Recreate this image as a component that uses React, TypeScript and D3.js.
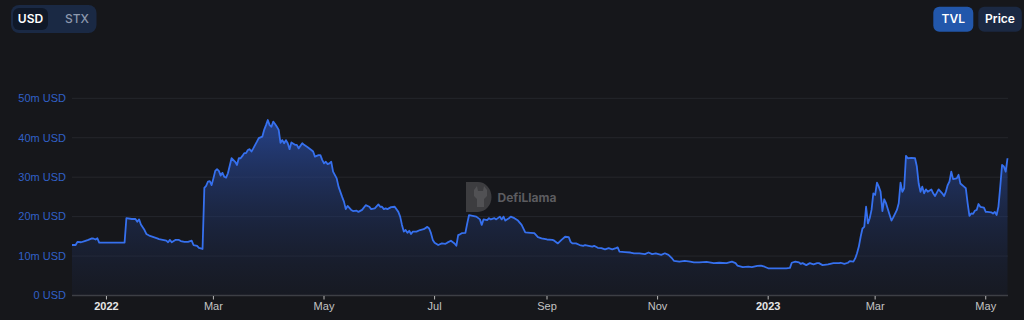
import React from "react";
import * as d3 from "d3";

const SERIES_ORIGIN = "2022-01-01";
// [days since SERIES_ORIGIN, TVL in millions USD]
const tvlSeries: [number, number][] = [
  [-19,12.8],[-17,12.8],[-16,13.6],[-14,13.5],[-12,13.8],[-10,14.1],[-8,14.5],[-7,14.4],[-6,14.2],[-5,14.5],[-4,13.4],[10,13.4],
  [11,19.6],[14,19.4],[16,19.4],[17,18.7],[18,19.3],[19,18.0],[21,16.6],[22,15.6],[24,15.1],[26,14.8],[28,14.5],[29,14.3],[31,14.1],[33,13.9],[34,13.5],[35,14.1],[36,13.5],[38,14.1],[40,14.1],[41,13.8],[43,13.6],[45,13.6],[47,13.9],[48,12.8],[50,12.6],[51,12.1],[53,11.8],
  [54,27.3],[55,27.8],[56,28.9],[57,29.0],[58,28.0],[59,29.7],[60,31.6],[61,32.0],[62,31.6],[63,30.4],[64,31.1],[65,30.1],[66,29.9],[67,31.0],[69,34.8],[71,33.9],[72,33.1],[73,34.8],[74,34.8],[75,35.4],[76,36.1],[77,36.1],[78,36.9],[79,37.1],[80,36.5],[81,37.3],[83,39.0],[84,39.9],[86,40.3],[87,42.0],[88,43.2],[89,44.5],[90,43.2],[91,42.8],[92,44.1],[93,43.5],[94,42.8],[95,42.0],[96,38.7],[97,39.4],[98,38.6],[99,39.4],[100,38.6],[101,37.1],[102,38.8],[104,38.2],[105,38.2],[106,37.3],[108,38.6],[109,38.2],[111,37.6],[113,36.9],[114,36.5],[115,35.2],[117,35.6],[118,35.6],[119,34.4],[120,33.5],[121,33.9],[122,33.3],[123,33.5],[124,33.9],[125,31.4],[127,29.7],[128,27.6],
  [130,25.0],[131,23.8],[132,21.9],[133,22.7],[135,21.7],[136,21.4],[138,21.5],[139,21.2],[141,21.7],[143,22.9],[145,22.5],[146,21.9],[148,22.1],[150,23.1],[151,22.5],[152,22.5],[153,21.9],[154,22.1],[155,21.9],[157,22.4],[159,22.5],[161,21.2],[162,20.0],[163,17.9],[164,16.2],[165,16.6],[166,15.9],[167,16.4],[168,15.6],[169,16.2],[171,16.2],[173,16.6],[175,16.8],[177,17.4],[178,17.0],[179,15.8],[180,14.1],[181,13.4],[183,12.8],[185,13.2],[187,13.1],[188,13.4],[190,13.9],[192,13.2],[193,12.6],[194,15.3],[195,15.5],[196,15.8],[198,15.9],[199,18.3],[200,20.4],[202,20.2],[204,20.0],[206,19.3],[207,17.9],[208,19.3],[210,19.1],[211,19.6],[212,19.3],[214,19.6],[215,19.3],[217,20.0],[218,19.3],[219,20.0],[220,19.0],[222,19.6],[223,20.0],[225,19.6],[227,19.0],[229,17.9],[231,16.0],[234,15.9],[236,15.8],[238,14.8],[240,14.5],[243,14.2],[246,14.1],[247,13.9],[249,13.2],[251,14.1],
  [253,14.9],[255,14.8],[256,13.6],[257,13.2],[259,13.2],[261,12.8],[263,12.6],[264,12.8],[266,12.6],[268,12.4],[269,12.6],[271,12.1],[273,12.0],[275,11.7],[277,12.0],[279,11.7],[281,12.0],[282,12.2],[283,11.1],[286,11.0],[289,10.9],[291,10.7],[294,10.7],[297,10.5],[299,10.9],[301,10.5],[303,10.7],[306,10.3],[308,10.7],[310,10.3],[312,9.4],[313,8.8],[316,8.6],[319,8.8],[322,8.6],[324,8.4],[327,8.4],[331,8.5],[335,8.2],[338,8.3],[342,8.2],[345,8.6],[347,8.2],[348,7.6],[351,7.2],[354,7.3],[356,7.2],[359,7.5],[361,7.6],[363,7.3],[365,6.9],[368,6.9],[371,6.9],[375,6.9],[377,7.0],[378,8.3],[380,8.6],[382,8.4],[383,8.0],[384,8.2],[386,7.7],[388,8.2],[390,7.9],[392,8.2],[393,8.2],[395,7.7],[398,7.9],[401,8.2],[404,8.2],[405,8.3],[407,8.0],[409,8.3],[410,8.7],[412,8.6],
  [413,9.4],[414,10.7],[415,12.4],[416,14.9],[417,17.0],[418,17.4],[419,22.5],[420,18.3],[421,19.6],[422,21.7],[423,25.9],[424,25.5],[425,28.6],[426,27.6],[427,26.3],[428,21.4],[429,24.4],[430,23.4],[432,20.4],[433,19.0],[434,19.8],[436,21.7],[437,23.4],[438,28.6],[439,26.3],[440,27.2],[441,35.4],[442,34.8],[444,34.9],[446,34.8],[447,32.7],[448,28.4],[449,26.3],[450,27.6],[451,25.9],[452,26.9],[453,26.3],[455,26.9],[456,25.9],[457,25.2],[459,26.9],[461,25.9],[462,25.2],[463,26.3],[464,28.0],[465,28.9],[466,31.4],[467,29.5],[469,29.7],[470,30.6],[471,28.4],[473,27.6],[474,27.2],[475,23.4],[476,20.2],[477,20.8],[478,20.7],[479,21.5],[480,21.7],[481,23.2],[482,22.5],[484,22.3],[485,21.2],[486,21.2],[488,21.1],[489,20.8],[490,21.2],[491,20.4],[492,22.5],[493,27.6],[494,33.1],[495,32.7],[496,31.4],[497,34.8]
];

const yTickValues = [0, 10, 20, 30, 40, 50];
const xTickDates = ["2022-01-01","2022-03-01","2022-05-01","2022-07-01","2022-09-01","2022-11-01","2023-01-01","2023-03-01","2023-05-01"];
const currencyOptions = ["USD", "STX"];
const metricOptions = ["TVL", "Price"];

const BG = "#16171b";

function parseLocal(s: string) {
  const [y, m, d] = s.split("-").map(Number);
  return new Date(y, m - 1, d);
}

export default function App() {
  const W = 1024, H = 320;
  const origin = parseLocal(SERIES_ORIGIN);
  const data = tvlSeries.map(([d, v]) => ({ date: d3.timeDay.offset(origin, d), value: v }));
  const [d0, d1] = d3.extent(data, (d) => d.date) as [Date, Date];
  const x = d3.scaleTime().domain([d0, d1]).range([72, 1007.5]);
  const y = d3.scaleLinear().domain([0, 50]).range([295.5, 98.3]);

  const line = d3.line<{ date: Date; value: number }>().x((d) => x(d.date)).y((d) => y(d.value));
  const area = d3.area<{ date: Date; value: number }>().x((d) => x(d.date)).y0(y(0)).y1((d) => y(d.value));

  const xTicks = xTickDates.map(parseLocal);
  const fmtTick = (d: Date) => (d.getMonth() === 0 ? d3.timeFormat("%Y")(d) : d3.timeFormat("%b")(d));
  const fmtY = (v: number) => (v === 0 ? "0 USD" : `${v}m USD`);

  const font = "'Liberation Sans', Arial, sans-serif";
  const btnFont = "Inter, 'Liberation Sans', sans-serif";

  return (
    <div style={{ position: "fixed", left: 0, top: 0, width: W, height: H, background: BG }}>
      <svg width={W} height={H} style={{ display: "block" }}>
        <defs>
          <linearGradient id="areaGrad" gradientUnits="userSpaceOnUse" x1="0" x2="0" y1={y(45)} y2={y(0)}>
            <stop offset="0%" stopColor="#2a4ea8" stopOpacity={0.78} />
            <stop offset="100%" stopColor="#1a2440" stopOpacity={0.2} />
          </linearGradient>
        </defs>
        <rect x={0} y={0} width={W} height={H} fill={BG} />

        {/* grid */}
        {yTickValues.filter((v) => v > 0).map((v) => (
          <line key={v} x1={72} x2={1008} y1={y(v)} y2={y(v)} stroke="#25272c" strokeWidth={1} />
        ))}
        {yTickValues.map((v) => (
          <text key={"yl" + v} x={66} y={y(v)} dy="0.35em" textAnchor="end" fontFamily={font} fontSize={11} fill="#3160c8">
            {fmtY(v)}
          </text>
        ))}

        {/* watermark */}
        <g>
          <path d="M466,182 h12 a13.5,15 0 0 1 0,30 h-12 z" fill="#3d3d40" />
          <path d="M474,190 l3,-4 l1,5 h5 l1,-5 l3,4 v6 l-3,3 v8 h-7 v-8 l-3,-3 z" fill="#5a5a5d" opacity={0.7} />
          <text x={497.5} y={197.5} dy="0.35em" fontFamily={btnFont} fontWeight={700} fontSize={12} fill="#5c5c60">
            DefiLlama
          </text>
        </g>

        {/* area & line */}
        <path d={area(data) || ""} fill="url(#areaGrad)" />
        <path d={line(data) || ""} fill="none" stroke="#3670ee" strokeWidth={1.8} strokeLinejoin="round" />

        {/* x axis */}
        <line x1={72} x2={1008} y1={295.5} y2={295.5} stroke="#3d3f45" strokeWidth={1.5} />
        {xTicks.map((t, i) => (
          <g key={i} transform={`translate(${x(t)},0)`}>
            <line y1={296} y2={299.5} stroke="#b8b8b8" strokeWidth={1} />
            <text y={306.5} dy="0.35em" textAnchor="middle" fontFamily={font} fontSize={11}
              fontWeight={t.getMonth() === 0 ? 700 : 400} fill={t.getMonth() === 0 ? "#e6e6e6" : "#c4c4c4"}>
              {fmtTick(t)}
            </text>
          </g>
        ))}

        {/* currency toggle */}
        <rect x={11} y={5} width={85.5} height={28} rx={8} fill="#1a2944" />
        <rect x={13} y={8} width={35} height={22} rx={6} fill="#0f1828" />
        <text x={30.5} y={19} dy="0.35em" textAnchor="middle" fontFamily={btnFont} fontWeight={600} fontSize={12} fill="#ffffff">
          {currencyOptions[0]}
        </text>
        <text x={77} y={19} dy="0.35em" textAnchor="middle" fontFamily={btnFont} fontWeight={500} fontSize={12} fill="#8d98ad">
          {currencyOptions[1]}
        </text>

        {/* metric toggle */}
        <rect x={933.3} y={6.7} width={40} height={25} rx={6} fill="#2257ab" />
        <text x={953.3} y={19.2} dy="0.35em" textAnchor="middle" fontFamily={btnFont} fontWeight={600} fontSize={12} fill="#ffffff">
          {metricOptions[0]}
        </text>
        <rect x={978.3} y={6.7} width={43.5} height={25} rx={6} fill="#1b2943" />
        <text x={1000} y={19.2} dy="0.35em" textAnchor="middle" fontFamily={btnFont} fontWeight={600} fontSize={12} fill="#ffffff">
          {metricOptions[1]}
        </text>
      </svg>
    </div>
  );
}
